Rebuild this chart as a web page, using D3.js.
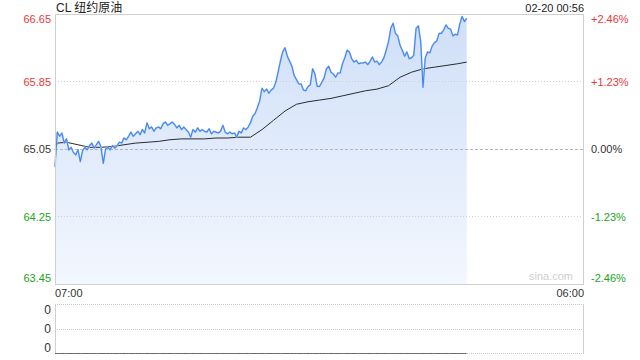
<!DOCTYPE html>
<html>
<head>
<meta charset="utf-8">
<script src="https://cdn.jsdelivr.net/npm/d3@7"></script>
<style>
  html, body { margin: 0; padding: 0; background: #fff; }
  svg { display: block; }
  text { font-family: "Liberation Sans", Arial, "Noto Sans CJK SC", sans-serif; }
</style>
</head>
<body>
<svg id="chart" width="640" height="360"></svg>
<script>
// ---------------- data ----------------
const title = "CL 纽约原油";
const stamp = "02-20 00:56";
const sessionStart = "2025-02-19T07:00";
const sessionEnd = "2025-02-20T06:00";
const timeLabels = ["07:00", "06:00"];
const prevClose = 65.05;
const priceTicks = [66.65, 65.85, 65.05, 64.25, 63.45];
const pctTicks = ["+2.46%", "+1.23%", "0.00%", "-1.23%", "-2.46%"];
const volumeTicks = ["0", "0", "0"];
const stepMinutes = 6; // one price sample every 6 minutes from 07:00
const prices = [
  64.84, 65.25, 65.20, 65.24, 65.12, 65.17, 65.04, 65.07, 65.01, 64.98,
  65.04, 64.90, 65.03, 65.07, 65.04, 65.09, 65.12, 65.06, 65.10, 65.14,
  65.07, 64.88, 65.05, 65.07, 65.04, 65.09, 65.06, 65.09, 65.13, 65.12,
  65.18, 65.16, 65.20, 65.25, 65.20, 65.23, 65.26, 65.22, 65.28, 65.24,
  65.36, 65.29, 65.31, 65.26, 65.30, 65.31, 65.29, 65.35, 65.37, 65.33,
  65.35, 65.37, 65.34, 65.30, 65.33, 65.28, 65.31, 65.28, 65.25, 65.19,
  65.28, 65.25, 65.30, 65.26, 65.28, 65.26, 65.25, 65.29, 65.23, 65.26,
  65.25, 65.24, 65.26, 65.33, 65.25, 65.23, 65.25, 65.23, 65.24, 65.19,
  65.26, 65.24, 65.30, 65.28, 65.31, 65.36, 65.44, 65.47, 65.54, 65.62,
  65.77, 65.73, 65.76, 65.71, 65.75, 65.77, 65.84, 65.96, 66.09, 66.20,
  66.25, 66.15, 66.09, 66.03, 65.92, 65.87, 65.82, 65.82, 65.75, 65.74,
  65.79, 65.81, 66.00, 65.94, 65.79, 65.79, 65.84, 65.89, 66.00, 66.03,
  65.96, 65.94, 65.90, 65.95, 65.95, 66.06, 66.13, 66.22, 66.20, 66.12,
  66.08, 66.10, 66.06, 66.07, 66.07, 66.08, 66.05, 66.09, 66.14, 66.08,
  66.09, 66.05, 66.08, 66.13, 66.22, 66.32, 66.48, 66.54, 66.42, 66.39,
  66.28, 66.22, 66.15, 66.20, 66.12, 66.13, 66.16, 66.48, 66.51, 66.32,
  65.78, 66.13, 66.20, 66.19, 66.27, 66.31, 66.33, 66.42, 66.42, 66.46,
  66.52, 66.48, 66.47, 66.39, 66.41, 66.40, 66.53, 66.62, 66.56, 66.60
];
const avgMinutes = [0, 6, 30, 60, 90, 120, 150, 180, 210, 240, 270, 300, 330, 360, 390, 420, 450, 480, 510,
  540, 570, 600, 630, 660, 690, 720, 750, 780, 810, 840, 870, 900, 930, 960, 990, 1020, 1050, 1074];
const avgPrices = [65.04, 65.12, 65.13, 65.10, 65.07, 65.07, 65.08, 65.10, 65.12, 65.13, 65.14, 65.16, 65.17, 65.17, 65.17, 65.18, 65.18, 65.19, 65.19,
  65.28, 65.39, 65.50, 65.58, 65.61, 65.63, 65.65, 65.68, 65.71, 65.74, 65.76, 65.80, 65.90, 65.96, 66.00, 66.02, 66.04, 66.06, 66.08];
const volumes = prices.map(() => 0); // every volume bar reads 0

// ---------------- layout ----------------
const svg = d3.select("#chart");
const L = 55, R = 584, T = 14, B = 284;
const VT = 304, VB = 354;
const red = "#e8393a", green = "#20a520", dark = "#333";

const t0 = new Date(sessionStart), t1 = new Date(sessionEnd);
const x = d3.scaleTime().domain([t0, t1]).range([L, R]);
const y = d3.scaleLinear().domain([priceTicks[4], priceTicks[0]]).range([B, T]);
const yv = d3.scaleLinear().domain([0, 1]).range([VB, VT]);

const priceData = prices.map((p, i) => ({ t: d3.timeMinute.offset(t0, i * stepMinutes), p }));
const avgData = avgMinutes.map((m, i) => ({ t: d3.timeMinute.offset(t0, m), p: avgPrices[i] }));
const volData = volumes.map((v, i) => ({ t: d3.timeMinute.offset(t0, i * stepMinutes), v }));

// gradient
const defs = svg.append("defs");
const grad = defs.append("linearGradient").attr("id", "fillGrad")
  .attr("gradientUnits", "userSpaceOnUse").attr("x1", 0).attr("x2", 0).attr("y1", T).attr("y2", B);
grad.append("stop").attr("offset", "0%").attr("stop-color", "#cfdff8");
grad.append("stop").attr("offset", "100%").attr("stop-color", "#f3f7fe");

// title & stamp
svg.append("text").attr("x", L + 1).attr("y", 11.5).attr("font-size", 12).attr("fill", "#222").text(title);
svg.append("text").attr("x", R).attr("y", 11.5).attr("font-size", 11).attr("text-anchor", "end").attr("fill", "#222").text(stamp);

// area
svg.append("path").datum(priceData)
  .attr("fill", "url(#fillGrad)")
  .attr("d", d3.area().x(d => x(d.t)).y0(B).y1(d => y(d.p)));

// grid lines
priceTicks.forEach((v, i) => {
  if (i === 0 || i === priceTicks.length - 1) return;
  svg.append("line").attr("x1", L).attr("x2", R).attr("y1", y(v)).attr("y2", y(v))
    .attr("stroke", v === prevClose ? "#b5b5b5" : "#cfcfcf")
    .attr("stroke-dasharray", v === prevClose ? "3,2" : "1,2")
    .attr("shape-rendering", "crispEdges");
});

svg.append("path").datum(avgData)
  .attr("fill", "none").attr("stroke", "#2b2b2b").attr("stroke-width", 1)
  .attr("d", d3.line().x(d => x(d.t)).y(d => y(d.p)));

svg.append("path").datum(priceData)
  .attr("fill", "none").attr("stroke", "#b9d1f7").attr("stroke-width", 1.9).attr("stroke-linejoin", "round")
  .attr("d", d3.line().x(d => x(d.t)).y(d => y(d.p)));
svg.append("path").datum(priceData)
  .attr("fill", "none").attr("stroke", "#4085ee").attr("stroke-width", 1.1).attr("stroke-linejoin", "round")
  .attr("d", d3.line().x(d => x(d.t)).y(d => y(d.p)));

// frame
svg.append("rect").attr("x", L + 0.5).attr("y", T + 0.5).attr("width", R - L - 1).attr("height", B - T)
  .attr("fill", "none").attr("stroke", "#cfcfcf");

// price labels (left) and pct labels (right)
const colorFor = v => v > prevClose ? red : (v < prevClose ? green : dark);
priceTicks.forEach((v, i) => {
  let yy = y(v) + 4;
  if (i === 0) yy = y(v) + 9;
  if (i === priceTicks.length - 1) yy = y(v) - 2;
  svg.append("text").attr("x", 51).attr("y", yy).attr("text-anchor", "end")
    .attr("font-size", 11).attr("fill", colorFor(v)).text(v.toFixed(2));
  svg.append("text").attr("x", 591).attr("y", yy).attr("text-anchor", "start")
    .attr("font-size", 11).attr("fill", colorFor(v)).text(pctTicks[i]);
});

// watermark
svg.append("text").attr("x", 573).attr("y", 280).attr("text-anchor", "end")
  .attr("font-size", 11).attr("fill", "#cfcfcf").text("sina.com");

// time axis labels
svg.append("text").attr("x", x(t0)).attr("y", 296.5).attr("font-size", 11).attr("fill", dark).text(timeLabels[0]);
svg.append("text").attr("x", x(t1)).attr("y", 296.5).attr("text-anchor", "end").attr("font-size", 11).attr("fill", dark).text(timeLabels[1]);

// volume panel
const vg = svg.append("g");
vg.append("line").attr("x1", L).attr("x2", R).attr("y1", VT + 0.5).attr("y2", VT + 0.5)
  .attr("stroke", "#c8c8c8").attr("stroke-dasharray", "1,1");
vg.append("line").attr("x1", L).attr("x2", R).attr("y1", (VT + VB) / 2).attr("y2", (VT + VB) / 2)
  .attr("stroke", "#c8c8c8").attr("stroke-dasharray", "1,1").attr("shape-rendering", "crispEdges");
vg.append("line").attr("x1", L).attr("x2", R).attr("y1", VB - 0.5).attr("y2", VB - 0.5)
  .attr("stroke", "#c8c8c8").attr("stroke-dasharray", "1,1");
vg.append("line").attr("x1", L + 0.5).attr("x2", L + 0.5).attr("y1", VT).attr("y2", VB).attr("stroke", "#cfcfcf");
vg.append("line").attr("x1", R - 0.5).attr("x2", R - 0.5).attr("y1", VT).attr("y2", VB).attr("stroke", "#cfcfcf");
vg.append("path").datum(volData)
  .attr("fill", "none").attr("stroke", "#666").attr("stroke-width", 1)
  .attr("d", d3.line().x(d => x(d.t)).y(d => yv(d.v) - 0.5));
const vy = [313.5, 333, 352];
volumeTicks.forEach((s, i) => {
  vg.append("text").attr("x", 51).attr("y", vy[i]).attr("text-anchor", "end")
    .attr("font-size", 12).attr("fill", dark).text(s);
});
</script>
</body>
</html>
